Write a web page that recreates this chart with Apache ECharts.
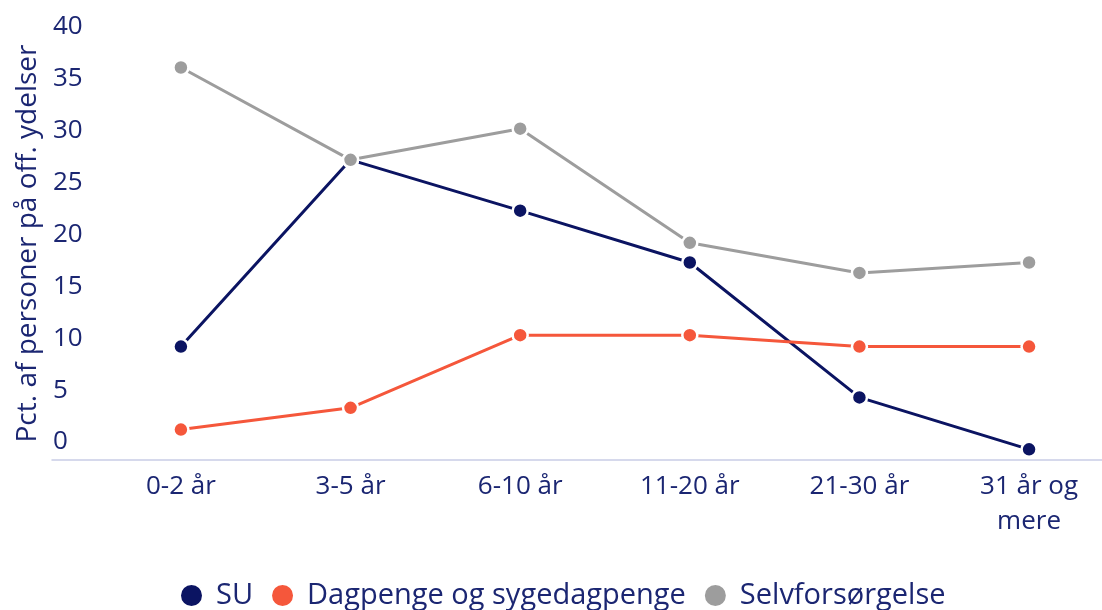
<!DOCTYPE html>
<html>
<head>
<meta charset="utf-8">
<script src="https://cdn.jsdelivr.net/npm/echarts@6/dist/echarts.min.js"></script>
<style>
html,body{margin:0;padding:0;background:#fff;}
#c{width:1102px;height:610px;}
</style>
</head>
<body>
<div id="c"></div>
<script>
const categories = ['0-2 år', '3-5 år', '6-10 år', '11-20 år', '21-30 år', '31 år og\nmere'];
const suValues = [9.2, 27.2, 22.3, 17.3, 4.3, -0.7];
const dagpengeValues = [1.2, 3.3, 10.3, 10.3, 9.2, 9.2];
const selvValues = [36.1, 27.2, 30.2, 19.2, 16.3, 17.3];
const yTicks = [0, 5, 10, 15, 20, 25, 30, 35, 40];
const seriesNames = ['SU', 'Dagpenge og sygedagpenge', 'Selvforsørgelse'];

const FONT = 'Open Sans';
const TEXT = '#1b2672';
const colors = ['#0b1462', '#f5573b', '#9d9d9d'];

function pairs(vals){ return vals.map((v,i)=>[i,v]); }

const chart = echarts.init(document.getElementById('c'));
const mk = (name, vals, color) => ({
  name, type:'line', data: pairs(vals),
  symbol:'circle', symbolSize:15,
  lineStyle:{color, width:3},
  itemStyle:{color, borderColor:'#fff', borderWidth:2.5},
  emphasis:{disabled:true}
});
chart.setOption({
  animation:false,
  color: colors,
  textStyle:{fontFamily:FONT},
  grid:{left:52, right:0, top:27, bottom:150, containLabel:false},
  xAxis:{
    type:'value', min:-0.76, max:5.43,
    axisLine:{show:true, onZero:false, lineStyle:{color:'#c9cde6', width:1.5}},
    axisTick:{show:false},
    splitLine:{show:false},
    axisLabel:{
      customValues:[0,1,2,3,4,5],
      formatter:(v)=>categories[Math.round(v)],
      color:TEXT, fontSize:26, fontFamily:FONT, margin:9, lineHeight:35
    }
  },
  yAxis:{
    type:'value', min:-1.73, max:40,
    name:'Pct. af personer på off. ydelser', nameLocation:'middle', nameGap:10,
    nameTextStyle:{color:TEXT, fontSize:28, fontFamily:FONT},
    axisLine:{show:false}, axisTick:{show:false}, splitLine:{show:false},
    axisLabel:{
      customValues:yTicks, align:'left', margin:-1,
      color:TEXT, fontSize:26, fontFamily:FONT
    }
  },
  legend:{
    top:576, left:174, icon:'circle', itemWidth:23, itemHeight:23, itemGap:17,
    data:seriesNames,
    textStyle:{color:TEXT, fontSize:29, fontFamily:FONT, padding:[0,0,0,8]}
  },
  series:[
    mk(seriesNames[0], suValues, colors[0]),
    mk(seriesNames[1], dagpengeValues, colors[1]),
    mk(seriesNames[2], selvValues, colors[2])
  ]
});
</script>
</body>
</html>
